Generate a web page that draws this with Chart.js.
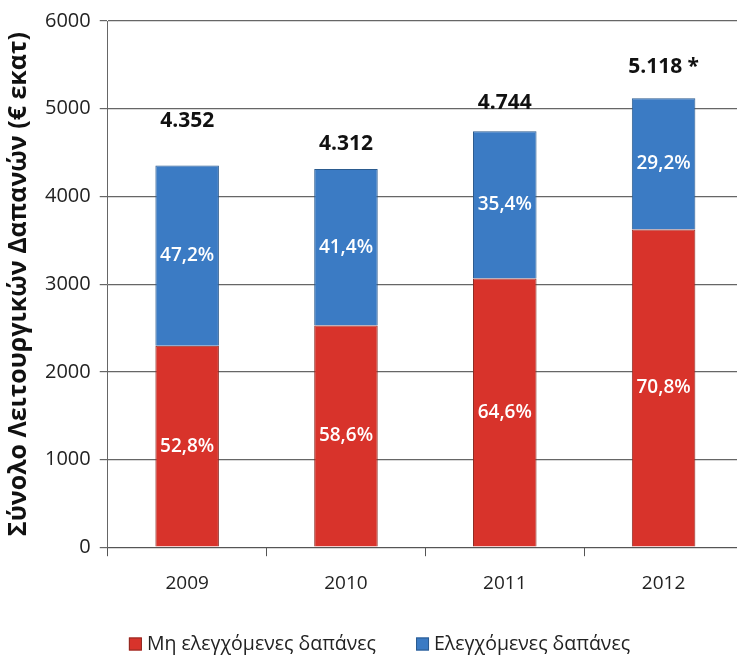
<!DOCTYPE html>
<html>
<head>
<meta charset="utf-8">
<script src="https://cdn.jsdelivr.net/npm/chart.js@4"></script>
<style>
html, body { margin: 0; padding: 0; background: #fff; overflow: hidden; }
#wrap { width: 743px; height: 661px; position: relative; }
</style>
</head>
<body>
<div id="wrap"><canvas id="chart"></canvas></div>
<script>
const years = ['2009', '2010', '2011', '2012'];
const uncontrolled = [2298, 2527, 3065, 3624];
const controlled = [2054, 1785, 1679, 1494];
const uncontrolledPct = ['52,8%', '58,6%', '64,6%', '70,8%'];
const controlledPct = ['47,2%', '41,4%', '35,4%', '29,2%'];
const totalLabels = ['4.352', '4.312', '4.744', '5.118 *'];
const seriesNames = ['Μη ελεγχόμενες δαπάνες', 'Ελεγχόμενες δαπάνες'];

// how far above the bar each total sits (px)
const totalGap = [45, 25, 28, 31];
const FONT = '"Open Sans", sans-serif';

// legend drawn by hand so the items can sit far apart on one low line
const bottomLegend = {
	id: 'bottomLegend',
	afterDraw(chart) {
		const ctx = chart.ctx;
		ctx.save();
		ctx.font = '19.5px ' + FONT;
		ctx.textBaseline = 'middle';
		let box = 13, gapText = 5, gapItem = 40;
		let sets = chart.data.datasets;
		let total = 0;
		sets.forEach(function(ds, i){
			total += box + gapText + ctx.measureText(ds.label).width;
			if(i > 0) total += gapItem;
		});
		let x = chart.width / 2 + 8 - total / 2;
		let y = chart.height - 17;
		sets.forEach(function(ds){
			ctx.fillStyle = ds.backgroundColor;
			ctx.fillRect(x, y - box / 2, box, box);
			ctx.strokeStyle = ds.borderColor;
			ctx.lineWidth = 1;
			ctx.strokeRect(x + 0.5, y - box / 2 + 0.5, box - 1, box - 1);
			x += box + gapText;
			ctx.fillStyle = '#222';
			ctx.fillText(ds.label, x, y);
			x += ctx.measureText(ds.label).width + gapItem;
		});
		ctx.restore();
	}
};

const barLabels = {
	id: 'barLabels',
	afterDatasetsDraw(chart) {
		const ctx = chart.ctx;
		const pcts = [uncontrolledPct, controlledPct];
		ctx.save();
		ctx.textAlign = 'center';
		ctx.textBaseline = 'middle';
		ctx.fillStyle = '#fff';
		ctx.font = '600 19px ' + FONT;
		chart.data.datasets.forEach(function(ds, d){
			chart.getDatasetMeta(d).data.forEach(function(bar, i){
				ctx.fillText(pcts[d][i], bar.x, (bar.y + bar.base) / 2);
			});
		});
		ctx.fillStyle = '#111';
		ctx.font = 'bold 21px ' + FONT;
		let top = chart.getDatasetMeta(1).data;
		for(let i = 0; i < top.length; i++){
			ctx.fillText(totalLabels[i], top[i].x, top[i].y - totalGap[i]);
		}
		ctx.restore();
	}
};

let ctx = document.getElementById('chart').getContext('2d');
new Chart(ctx, {
	type: 'bar',
	data: {
		labels: years,
		datasets: [{
			label: seriesNames[0],
			data: uncontrolled,
			backgroundColor: '#d8332b',
			borderColor: '#8e2a22',
			borderWidth: 1
		}, {
			label: seriesNames[1],
			data: controlled,
			backgroundColor: '#3b7bc4',
			borderColor: '#2b5b8f',
			borderWidth: 1
		}]
	},
	options: {
		responsive: true,
		maintainAspectRatio: false,
		animation: false,
		categoryPercentage: 1,
		barPercentage: 0.4,
		layout: { padding: { top: 17, left: 0, right: 0, bottom: 50 } },
		plugins: {
			tooltip: { enabled: false },
			legend: { display: false }
		},
		scales: {
			x: {
				stacked: true,
				grid: { offset: true, drawOnChartArea: false, color: '#555', tickLength: 9 },
				border: { color: '#555' },
				ticks: { color: '#222', padding: 16, font: { family: FONT, size: 19 } }
			},
			y: {
				stacked: true,
				min: 0,
				max: 6000,
				grid: { color: '#666', lineWidth: 1.2, tickLength: 8 },
				border: { color: '#666' },
				ticks: {
					stepSize: 1000,
					color: '#222',
					padding: 9,
					font: { family: FONT, size: 20 },
					callback: function(v){ return String(v); }
				},
				title: {
					display: true,
					text: 'Σύνολο Λειτουργικών Δαπανών (€ εκατ)',
					color: '#111',
					font: { family: FONT, size: 25, weight: 'bold' },
					padding: { bottom: 2 }
				}
			}
		}
	},
	plugins: [barLabels, bottomLegend]
});
</script>
</body>
</html>
